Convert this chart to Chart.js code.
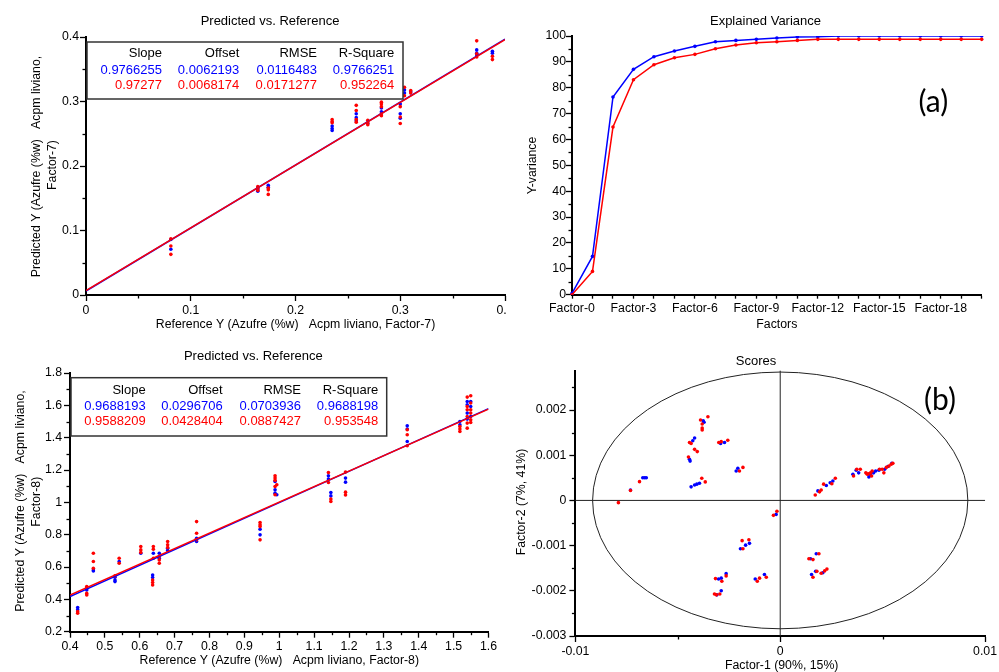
<!DOCTYPE html>
<html>
<head>
<meta charset="utf-8">
<script src="https://cdn.jsdelivr.net/npm/chart.js@4.4.1/dist/chart.umd.min.js"></script>
<style>
  html, body { margin: 0; padding: 0; background: #fff; }
  body { width: 999px; height: 672px; position: relative; overflow: hidden; }
  canvas, .clip { position: absolute; }
  .clip { overflow: hidden; }
</style>
</head>
<body>
<div class="clip" style="left:0;top:0;width:507px;height:340px">
  <canvas id="fit7" width="522" height="340" style="left:0;top:0"></canvas>
</div>
<canvas id="variance" width="479" height="340" style="left:520px;top:0"></canvas>
<canvas id="fit8" width="505" height="332" style="left:0;top:340px"></canvas>
<canvas id="scores" width="494" height="332" style="left:505px;top:340px"></canvas>
<script>
// =====================
// DATA
// =====================
const BLUE = "#0000ff";
const RED = "#ff0000";

// regression stats: [calibration, validation]
const statHeaders = ["Slope", "Offset", "RMSE", "R-Square"];
const stats7Blue = [0.9766255, 0.0062193, 0.0116483, 0.9766251];
const stats7Red = [0.97277, 0.0068174, 0.0171277, 0.952264];
const stats8Blue = [0.9688193, 0.0296706, 0.0703936, 0.9688198];
const stats8Red = [0.9588209, 0.0428404, 0.0887427, 0.953548];

// predicted vs reference, Factor-7 model  [reference, predicted]
const fit7Blue = [
    [0.081, 0.086], [0.081, 0.071],
    [0.164, 0.161], [0.164, 0.163], [0.164, 0.166],
    [0.174, 0.170], [0.174, 0.167],
    [0.235, 0.262], [0.235, 0.258], [0.235, 0.255],
    [0.258, 0.281], [0.258, 0.275], [0.258, 0.270],
    [0.269, 0.266],
    [0.282, 0.290], [0.282, 0.284],
    [0.300, 0.296], [0.300, 0.281], [0.300, 0.274],
    [0.304, 0.318], [0.304, 0.313],
    [0.310, 0.315],
    [0.373, 0.380], [0.373, 0.375], [0.373, 0.372],
    [0.388, 0.378], [0.388, 0.375]
];
const fit7Red = [
    [0.081, 0.087], [0.081, 0.076], [0.081, 0.063],
    [0.164, 0.168], [0.164, 0.165], [0.164, 0.162],
    [0.174, 0.166], [0.174, 0.163], [0.174, 0.156],
    [0.235, 0.272], [0.235, 0.269], [0.235, 0.267],
    [0.258, 0.294], [0.258, 0.286], [0.258, 0.272], [0.258, 0.268],
    [0.269, 0.271], [0.269, 0.267], [0.269, 0.264],
    [0.282, 0.299], [0.282, 0.296], [0.282, 0.292], [0.282, 0.281], [0.282, 0.278],
    [0.300, 0.292], [0.300, 0.276], [0.300, 0.266],
    [0.304, 0.322], [0.304, 0.309],
    [0.310, 0.317], [0.310, 0.313],
    [0.373, 0.394], [0.373, 0.374], [0.373, 0.369],
    [0.388, 0.370], [0.388, 0.365]
];

// predicted vs reference, Factor-8 model
const fit8Blue = [
    [0.422, 0.349], [0.422, 0.336],
    [0.448, 0.468], [0.448, 0.458],
    [0.467, 0.582], [0.467, 0.575],
    [0.529, 0.537], [0.529, 0.520], [0.529, 0.510],
    [0.541, 0.634],
    [0.603, 0.685],
    [0.637, 0.551], [0.637, 0.535],
    [0.639, 0.685],
    [0.656, 0.685], [0.656, 0.654],
    [0.680, 0.716], [0.680, 0.702],
    [0.763, 0.778], [0.763, 0.758],
    [0.945, 0.834], [0.945, 0.799],
    [0.988, 1.129], [0.988, 1.078], [0.988, 1.057],
    [0.993, 1.047],
    [1.141, 1.164], [1.141, 1.144],
    [1.148, 1.061], [1.148, 1.040],
    [1.190, 1.150], [1.190, 1.125],
    [1.367, 1.474], [1.367, 1.453], [1.367, 1.376],
    [1.518, 1.500], [1.518, 1.480],
    [1.539, 1.624], [1.539, 1.604], [1.539, 1.552], [1.539, 1.515],
    [1.549, 1.624], [1.549, 1.593], [1.549, 1.531]
];
const fit8Red = [
    [0.422, 0.324], [0.422, 0.314],
    [0.448, 0.479], [0.448, 0.437], [0.448, 0.427],
    [0.467, 0.685], [0.467, 0.634], [0.467, 0.592],
    [0.529, 0.545],
    [0.541, 0.654], [0.541, 0.623],
    [0.603, 0.727], [0.603, 0.706], [0.603, 0.690],
    [0.637, 0.520], [0.637, 0.504], [0.637, 0.489],
    [0.639, 0.727], [0.639, 0.710], [0.639, 0.654],
    [0.656, 0.665], [0.656, 0.644], [0.656, 0.623],
    [0.680, 0.758], [0.680, 0.737], [0.680, 0.720],
    [0.763, 0.881], [0.763, 0.809], [0.763, 0.768],
    [0.945, 0.875], [0.945, 0.861], [0.945, 0.850], [0.945, 0.768],
    [0.988, 1.164], [0.988, 1.150], [0.988, 1.136], [0.988, 1.098], [0.988, 1.047],
    [0.993, 1.109],
    [1.141, 1.184], [1.141, 1.123],
    [1.148, 1.020], [1.148, 1.005],
    [1.190, 1.187], [1.190, 1.063], [1.190, 1.046],
    [1.367, 1.449], [1.367, 1.418], [1.367, 1.350],
    [1.518, 1.469], [1.518, 1.453], [1.518, 1.438],
    [1.539, 1.651], [1.539, 1.593], [1.539, 1.573], [1.539, 1.531], [1.539, 1.490], [1.539, 1.459],
    [1.549, 1.659], [1.549, 1.614], [1.549, 1.573], [1.549, 1.552], [1.549, 1.511], [1.549, 1.494]
];

// explained Y-variance per factor
const factors = Array.from({ length: 21 }, (_, i) => "Factor-" + i);
const varianceBlue = [0.5, 14.8, 76.4, 87.1, 92.0, 94.2, 96.0, 97.8, 98.3, 98.7, 99.2, 99.6, 99.7,
    100, 100, 100, 100, 100, 100, 100, 100];
const varianceRed = [0, 9.0, 64.8, 83.1, 88.9, 91.6, 92.9, 95.1, 96.5, 97.4, 97.8, 98.3, 98.7,
    98.7, 98.7, 98.7, 98.7, 98.7, 98.7, 98.7, 98.7];

// scores, Factor-1 vs Factor-2
const scoresBlue = [
    [-0.00731, 0.00023], [-0.00671, 0.0005], [-0.00662, 0.0005], [-0.00654, 0.0005],
    [-0.00376, 0.00176], [-0.00372, 0.00173],
    [-0.00427, 0.00132], [-0.00418, 0.00138],
    [-0.00443, 0.00091], [-0.0044, 0.00087],
    [-0.00435, 0.0003], [-0.00418, 0.00034], [-0.00407, 0.00036], [-0.00394, 0.00038],
    [-0.00291, 0.00126], [-0.00272, 0.00128],
    [-0.00215, 0.00065], [-0.00207, 0.00071],
    [-0.0002, -0.00031],
    [-0.00194, -0.00107], [-0.00169, -0.00099], [-0.0015, -0.00095],
    [-0.00301, -0.00174], [-0.00288, -0.00172], [-0.00264, -0.00162],
    [-0.00309, -0.00209], [-0.00288, -0.002],
    [-0.00122, -0.00174], [-0.00077, -0.00164],
    [0.00148, -0.00129], [0.00176, -0.00118],
    [0.00153, -0.00164], [0.00173, -0.00157], [0.00208, -0.0016],
    [0.00184, 0.00021], [0.00225, 0.00033], [0.00244, 0.00039], [0.00257, 0.00043],
    [0.00355, 0.00058], [0.00371, 0.00067], [0.00383, 0.00061],
    [0.00433, 0.00052], [0.0044, 0.00058], [0.00456, 0.00061], [0.00466, 0.00065],
    [0.00482, 0.00067], [0.0051, 0.00069], [0.00526, 0.00075], [0.00545, 0.00082]
];
const scoresRed = [
    [-0.0079, -0.00005], [-0.00731, 0.00022], [-0.00687, 0.000415],
    [-0.00389, 0.00178], [-0.00381, 0.00169], [-0.00381, 0.0016], [-0.00381, 0.00156], [-0.00353, 0.00185],
    [-0.00443, 0.00128], [-0.00435, 0.00126],
    [-0.00418, 0.00113], [-0.00405, 0.00108],
    [-0.00448, 0.00096],
    [-0.00383, 0.00049], [-0.00366, 0.00041],
    [-0.003, 0.00128], [-0.00288, 0.0013], [-0.00256, 0.00133],
    [-0.00199, 0.00065], [-0.00182, 0.00073],
    [-0.00033, -0.00033], [-0.00016, -0.00024],
    [-0.00186, -0.00089], [-0.00153, -0.00087], [-0.00182, -0.00107],
    [-0.00316, -0.00173], [-0.00285, -0.00179], [-0.00264, -0.00167],
    [-0.00321, -0.00207], [-0.00312, -0.00209], [-0.00295, -0.00207],
    [-0.00112, -0.00179], [-0.00101, -0.00172], [-0.00068, -0.0017],
    [0.0014, -0.00129], [0.0016, -0.00131], [0.00189, -0.00118],
    [0.0016, -0.0017], [0.00179, -0.00157], [0.002, -0.00161], [0.00217, -0.00156], [0.00228, -0.00152],
    [0.00171, 0.00012], [0.00192, 0.00019], [0.002, 0.00023], [0.00212, 0.00036], [0.00252, 0.00037], [0.00269, 0.00049],
    [0.00358, 0.00054], [0.00374, 0.00069], [0.00391, 0.00069],
    [0.00418, 0.00061], [0.0043, 0.00059], [0.00441, 0.00061], [0.00449, 0.00065], [0.00446, 0.00054], [0.00425, 0.00058],
    [0.00485, 0.00069], [0.00498, 0.00069], [0.00506, 0.00061], [0.00518, 0.00073], [0.00531, 0.00076], [0.00542, 0.0008], [0.0055, 0.00082]
];
// Hotelling ellipse half-axes [Factor-1, Factor-2]
const ellipseRadius = [0.00916, 0.00284];

// =====================
// HELPERS
// =====================
const FAMILY = '"Liberation Sans", Arial, sans-serif';
const FONT = "13px " + FAMILY;
const AXIS_FONT = "12.3px " + FAMILY;
const LETTER_FONT = '30px Lato, "Open Sans", sans-serif';
const DEG90 = -Math.PI / 2;

function onStep(v, step) {
    const r = v / step;
    return Math.abs(r - Math.round(r)) < 1e-6;
}

// unlabeled ticks get drawn short by the minorTicks plugin
const majorOnly = c => (c.tick && c.tick.label === "") ? "rgba(0,0,0,0)" : "#000";

function axis(min, max, step, labelStep, digits, pad, extra) {
    return Object.assign({
        type: "linear",
        min: min,
        max: max,
        border: { display: true, color: "#000", width: 2 },
        grid: { display: true, drawOnChartArea: false, drawTicks: true, tickLength: 6, color: "#000", tickColor: majorOnly, tickWidth: 1.3 },
        ticks: {
            stepSize: step,
            includeBounds: false,
            autoSkip: false,
            maxRotation: 0,
            minRotation: 0,
            padding: pad,
            color: "#000",
            font: { family: FAMILY, size: 12.3 },
            callback: v => onStep(v, labelStep) ? String(+v.toFixed(digits)) : ""
        }
    }, extra);
}

const fixWidth = w => s => { s.width = w; };
const fixHeight = h => s => { s.height = h; };

function points(pairs) {
    return pairs.map(p => ({ x: p[0], y: p[1] }));
}

// regression line across the x range from slope and offset
function fitLine(st, x0, x1) {
    return [{ x: x0, y: st[0] * x0 + st[1] }, { x: x1, y: st[0] * x1 + st[1] }];
}

// free text: titles, axis names, panel letters
const panelText = {
    id: "panelText",
    afterDraw(chart, args, opts) {
        const ctx = chart.ctx;
        (opts.items || []).forEach(t => {
            ctx.save();
            ctx.font = t.font || FONT;
            ctx.fillStyle = "#000";
            ctx.textAlign = "center";
            ctx.textBaseline = "middle";
            ctx.translate(t.x, t.y);
            if (t.rot) ctx.rotate(t.rot);
            ctx.fillText(t.text, 0, 0);
            ctx.restore();
        });
    }
};

// short marks for the unlabeled steps of linear axes
const minorTicks = {
    id: "minorTicks",
    afterDraw(chart) {
        const ctx = chart.ctx;
        ctx.save();
        ctx.strokeStyle = "#000";
        ctx.lineWidth = 1.3;
        Object.values(chart.scales).forEach(s => {
            if (s.type !== "linear") return;
            s.ticks.forEach(t => {
                if (t.label !== "") return;
                const p = Math.round(s.getPixelForValue(t.value)) + 0.5;
                ctx.beginPath();
                if (s.isHorizontal()) {
                    ctx.moveTo(p, s.top);
                    ctx.lineTo(p, s.top + 3.5);
                } else {
                    ctx.moveTo(s.right - 3.5, p);
                    ctx.lineTo(s.right, p);
                }
                ctx.stroke();
            });
        });
        ctx.restore();
    }
};

// boxed table of regression stats
const statsBox = {
    id: "statsBox",
    afterDatasetsDraw(chart, args, o) {
        if (!o.rows) return;
        const ctx = chart.ctx;
        ctx.save();
        ctx.fillStyle = "#fff";
        ctx.fillRect(o.box[0], o.box[1], o.box[2] - o.box[0], o.box[3] - o.box[1]);
        ctx.strokeStyle = "#333";
        ctx.lineWidth = 1.5;
        ctx.strokeRect(o.box[0], o.box[1], o.box[2] - o.box[0], o.box[3] - o.box[1]);
        ctx.font = FONT;
        ctx.textAlign = "right";
        ctx.textBaseline = "middle";
        statHeaders.forEach((h, i) => {
            ctx.fillStyle = "#000";
            ctx.fillText(h, o.cols[i], o.rowY[0]);
        });
        o.rows.forEach((row, r) => {
            ctx.fillStyle = row.color;
            row.values.forEach((v, i) => ctx.fillText(String(v), o.cols[i], o.rowY[r + 1]));
        });
        ctx.restore();
    }
};

// ellipse and zero cross for the scores plot
const scoreFrame = {
    id: "scoreFrame",
    beforeDatasetsDraw(chart, args, o) {
        if (!o.ellipse) return;
        const { ctx, chartArea: a, scales: { x, y } } = chart;
        const cx = x.getPixelForValue(0);
        const cy = y.getPixelForValue(0);
        const rx = x.getPixelForValue(o.ellipse[0]) - cx;
        const ry = cy - y.getPixelForValue(o.ellipse[1]);
        ctx.save();
        ctx.strokeStyle = "#222";
        ctx.lineWidth = 1;
        ctx.beginPath();
        ctx.ellipse(cx, cy, rx, ry, 0, 0, 2 * Math.PI);
        ctx.stroke();
        ctx.beginPath();
        ctx.moveTo(a.left, cy);
        ctx.lineTo(a.right, cy);
        ctx.moveTo(cx, a.top);
        ctx.lineTo(cx, a.bottom);
        ctx.stroke();
        ctx.restore();
    }
};

Chart.register(panelText, minorTicks, statsBox, scoreFrame);

const base = {
    responsive: false,
    animation: false,
    devicePixelRatio: 1,
    events: [],
    plugins: { legend: { display: false }, tooltip: { enabled: false } }
};

function scatterSets(blue, red, statsB, statsR, x0, x1) {
    return [
        { data: fitLine(statsR, x0, x1), showLine: true, borderColor: RED, borderWidth: 1.5, pointRadius: 0, order: 0 },
        { data: fitLine(statsB, x0, x1), showLine: true, borderColor: BLUE, borderWidth: 1.5, pointRadius: 0, order: 1 },
        { data: points(red), backgroundColor: RED, borderWidth: 0, pointRadius: 1.8, order: 2 },
        { data: points(blue), backgroundColor: BLUE, borderWidth: 0, pointRadius: 1.8, order: 3 }
    ];
}

// =====================
// PREDICTED VS REFERENCE, FACTOR-7
// =====================
new Chart(document.getElementById("fit7"), {
    type: "scatter",
    data: { datasets: scatterSets(fit7Blue, fit7Red, stats7Blue, stats7Red, 0, 0.4) },
    options: Object.assign({}, base, {
        layout: { autoPadding: false, padding: { left: 46, right: 17, top: 37, bottom: 15 } },
        scales: {
            x: axis(0, 0.4, 0.05, 0.1, 1, 2, { afterFit: fixHeight(30) }),
            y: axis(0, 0.4, 0.05, 0.1, 1, 1, { afterFit: fixWidth(40) })
        },
        plugins: Object.assign({}, base.plugins, {
            panelText: { items: [
                { text: "Predicted vs. Reference", x: 270, y: 21 },
                { text: "Reference Y (Azufre (%w)   Acpm liviano, Factor-7)", x: 295.5, y: 325, font: AXIS_FONT },
                { text: "Predicted Y (Azufre (%w)   Acpm liviano,", x: 37, y: 166.5, rot: DEG90, font: AXIS_FONT },
                { text: "Factor-7)", x: 52.5, y: 165, rot: DEG90, font: AXIS_FONT }
            ] },
            statsBox: {
                box: [87, 42, 403, 99],
                cols: [162, 239.3, 317, 394.3],
                rowY: [53.3, 70.7, 85],
                rows: [{ color: BLUE, values: stats7Blue }, { color: RED, values: stats7Red }]
            }
        })
    })
});

// =====================
// EXPLAINED VARIANCE
// =====================
new Chart(document.getElementById("variance"), {
    type: "line",
    data: {
        labels: factors,
        datasets: [
            { data: varianceRed, borderColor: RED, backgroundColor: RED, borderWidth: 1.5, pointRadius: 1.8, pointBorderWidth: 0 },
            { data: varianceBlue, borderColor: BLUE, backgroundColor: BLUE, borderWidth: 1.5, pointRadius: 1.8, pointBorderWidth: 0 }
        ]
    },
    options: Object.assign({}, base, {
        layout: { autoPadding: false, padding: { left: 22, right: 17.3, top: 36, bottom: 15.3 } },
        scales: {
            x: axis(undefined, undefined, 1, 1, 0, 2, {
                type: "category",
                offset: false,
                afterFit: fixHeight(30),
                grid: { display: true, drawOnChartArea: false, drawTicks: true, tickLength: 4, color: "#000", tickColor: "#000", tickWidth: 1.3 },
                ticks: {
                    autoSkip: false, maxRotation: 0, minRotation: 0, padding: 3, color: "#000",
                    font: { family: FAMILY, size: 12.3 },
                    callback: function (v, i) { return i % 3 === 0 ? this.getLabelForValue(v) : ""; }
                }
            }),
            y: axis(0, 100, 5, 10, 0, 0, { afterFit: fixWidth(30) })
        },
        plugins: Object.assign({}, base.plugins, {
            panelText: { items: [
                { text: "Explained Variance", x: 245.5, y: 21 },
                { text: "Factors", x: 256.8, y: 325, font: AXIS_FONT },
                { text: "Y-variance", x: 13, y: 165.5, rot: DEG90, font: AXIS_FONT },
                { text: "(a)", x: 413.3, y: 102, font: LETTER_FONT }
            ] }
        })
    })
});

// =====================
// PREDICTED VS REFERENCE, FACTOR-8
// =====================
new Chart(document.getElementById("fit8"), {
    type: "scatter",
    data: { datasets: scatterSets(fit8Blue, fit8Red, stats8Blue, stats8Red, 0.4, 1.6) },
    options: Object.assign({}, base, {
        layout: { autoPadding: false, padding: { left: 30, right: 16.5, top: 33, bottom: 15.3 } },
        scales: {
            x: axis(0.4, 1.6, 0.05, 0.1, 1, 2, { afterFit: fixHeight(25) }),
            y: axis(0.2, 1.8, 0.1, 0.2, 1, 2, { afterFit: fixWidth(40) })
        },
        plugins: Object.assign({}, base.plugins, {
            panelText: { items: [
                { text: "Predicted vs. Reference", x: 253.3, y: 16.7 },
                { text: "Reference Y (Azufre (%w)   Acpm liviano, Factor-8)", x: 279.3, y: 320.7, font: AXIS_FONT },
                { text: "Predicted Y (Azufre (%w)   Acpm liviano,", x: 20.5, y: 161, rot: DEG90, font: AXIS_FONT },
                { text: "Factor-8)", x: 36.3, y: 161.7, rot: DEG90, font: AXIS_FONT }
            ] },
            statsBox: {
                box: [71, 37.7, 386.7, 96],
                cols: [145.7, 222.7, 301, 378.3],
                rowY: [50, 66.7, 81.7],
                rows: [{ color: BLUE, values: stats8Blue }, { color: RED, values: stats8Red }]
            }
        })
    })
});

// =====================
// SCORES
// =====================
new Chart(document.getElementById("scores"), {
    type: "scatter",
    data: {
        datasets: [
            { data: points(scoresRed), backgroundColor: RED, borderWidth: 0, pointRadius: 1.8, order: 0 },
            { data: points(scoresBlue), backgroundColor: BLUE, borderWidth: 0, pointRadius: 1.8, order: 1 }
        ]
    },
    options: Object.assign({}, base, {
        layout: { autoPadding: false, padding: { left: 20.4, right: 13, top: 30.7, bottom: 11 } },
        scales: {
            x: axis(-0.01, 0.01, 0.005, 0.01, 2, 2, { afterFit: fixHeight(25) }),
            y: axis(-0.003, 0.00287, 0.0005, 0.001, 3, 3, { afterFit: fixWidth(50) })
        },
        plugins: Object.assign({}, base.plugins, {
            panelText: { items: [
                { text: "Scores", x: 251, y: 21.7 },
                { text: "Factor-1 (90%, 15%)", x: 276.7, y: 325.7, font: AXIS_FONT },
                { text: "Factor-2 (7%, 41%)", x: 16.5, y: 162, rot: DEG90, font: AXIS_FONT },
                { text: "(b)", x: 435, y: 60.5, font: LETTER_FONT }
            ] },
            scoreFrame: { ellipse: ellipseRadius }
        })
    })
});
</script>
</body>
</html>
